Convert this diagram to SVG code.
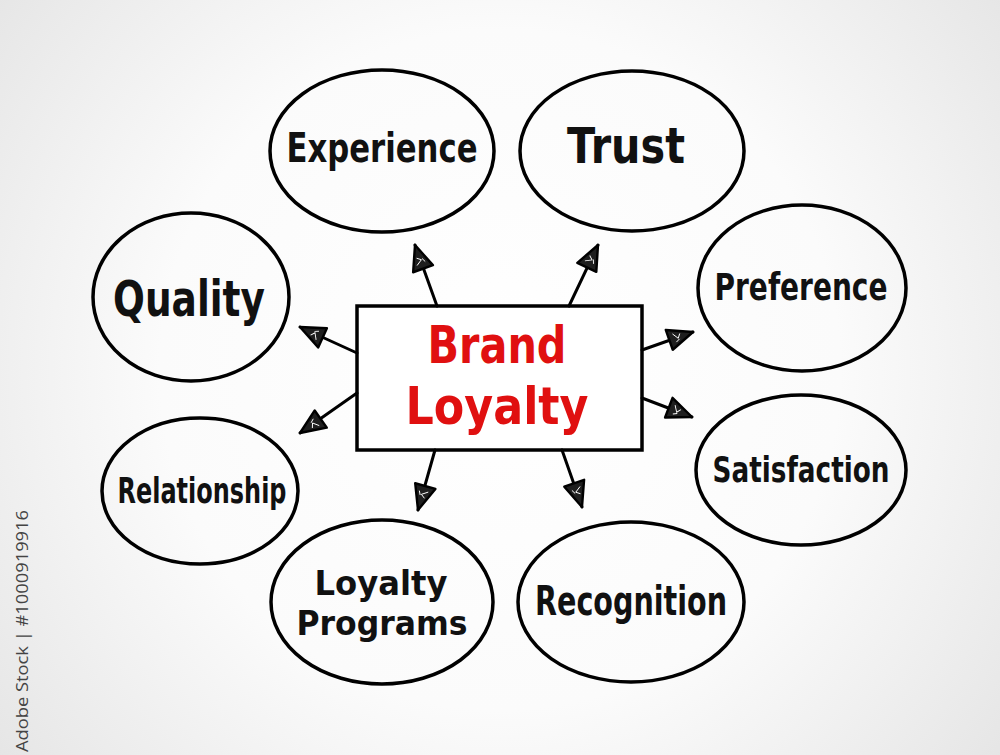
<svg xmlns="http://www.w3.org/2000/svg" width="1000" height="755" viewBox="0 0 1000 755">
<defs>
<radialGradient id="bg" cx="500" cy="370" r="680" gradientUnits="userSpaceOnUse">
<stop offset="0" stop-color="#ffffff"/>
<stop offset="0.5" stop-color="#fbfbfb"/>
<stop offset="1" stop-color="#e2e2e2"/>
</radialGradient>
<marker id="ah" markerUnits="userSpaceOnUse" markerWidth="34" markerHeight="28" refX="25" refY="11" orient="auto" viewBox="-3 -3 32 28" overflow="visible">
<path d="M0,0 L25,11 L0,21 Z" fill="#1e1e1e" stroke="#000" stroke-width="2.4" stroke-linejoin="round"/>
<path d="M5,6 L9,12 L12,8 M6,15 L10,13" fill="none" stroke="#fff" stroke-width="0.9"/>
</marker>
<style>
.node ellipse{fill:none;stroke:#000;stroke-width:3.5}
.lbl{font-family:"DejaVu Sans","Liberation Sans",sans-serif;font-weight:bold;fill:#111;text-anchor:middle}
.conn line{stroke:#000;stroke-width:3;stroke-linecap:round;marker-end:url(#ah)}
</style>
</defs>
<rect width="1000" height="755" fill="url(#bg)"/>
<text transform="translate(28,510) rotate(-90)" x="0" y="0" text-anchor="end" font-family="'Open Sans','DejaVu Sans',sans-serif" font-size="16" fill="#444" textLength="242" lengthAdjust="spacingAndGlyphs">Adobe Stock | #1000919916</text>

<g id="center">
<rect x="357" y="306" width="285" height="144" fill="#fff" stroke="#000" stroke-width="3.5"/>
<text class="lbl" x="497" y="363" font-size="52" style="fill:#e01010" textLength="139" lengthAdjust="spacingAndGlyphs">Brand</text>
<text class="lbl" x="497" y="424" font-size="52" style="fill:#e01010" textLength="183" lengthAdjust="spacingAndGlyphs">Loyalty</text>
</g>

<g class="conn" id="connectors">
<line x1="437" y1="306" x2="415" y2="245"/>
<line x1="569" y1="306" x2="598" y2="245"/>
<line x1="357" y1="353" x2="300" y2="327"/>
<line x1="357" y1="393" x2="300" y2="433"/>
<line x1="642" y1="350" x2="693" y2="332"/>
<line x1="642" y1="398" x2="692" y2="417"/>
<line x1="435" y1="450" x2="418" y2="510"/>
<line x1="562" y1="450" x2="582" y2="507"/>
</g>

<g class="node" id="experience">
<ellipse cx="382" cy="151" rx="112" ry="81"/>
<text class="lbl" x="382" y="162" font-size="41" textLength="191" lengthAdjust="spacingAndGlyphs">Experience</text>
</g>
<g class="node" id="trust">
<ellipse cx="632" cy="151" rx="112" ry="80"/>
<text class="lbl" x="626" y="163" font-size="50" textLength="118" lengthAdjust="spacingAndGlyphs">Trust</text>
</g>
<g class="node" id="quality">
<ellipse cx="191" cy="297" rx="98" ry="84"/>
<text class="lbl" x="189" y="316" font-size="50" textLength="152" lengthAdjust="spacingAndGlyphs">Quality</text>
</g>
<g class="node" id="preference">
<ellipse cx="802" cy="288" rx="104" ry="83"/>
<text class="lbl" x="801" y="300" font-size="37" textLength="173" lengthAdjust="spacingAndGlyphs">Preference</text>
</g>
<g class="node" id="relationship">
<ellipse cx="200" cy="491" rx="98" ry="73"/>
<text class="lbl" x="202" y="503" font-size="35" textLength="169" lengthAdjust="spacingAndGlyphs">Relationship</text>
</g>
<g class="node" id="satisfaction">
<ellipse cx="801" cy="470" rx="105" ry="75"/>
<text class="lbl" x="801" y="482" font-size="36" textLength="177" lengthAdjust="spacingAndGlyphs">Satisfaction</text>
</g>
<g class="node" id="loyalty-programs">
<ellipse cx="382" cy="602" rx="111" ry="82"/>
<text class="lbl" x="381" y="595" font-size="34" textLength="133" lengthAdjust="spacingAndGlyphs">Loyalty</text>
<text class="lbl" x="382" y="635" font-size="34" textLength="171" lengthAdjust="spacingAndGlyphs">Programs</text>
</g>
<g class="node" id="recognition">
<ellipse cx="631" cy="602" rx="113" ry="80"/>
<text class="lbl" x="631" y="615" font-size="40" textLength="192" lengthAdjust="spacingAndGlyphs">Recognition</text>
</g>
</svg>
